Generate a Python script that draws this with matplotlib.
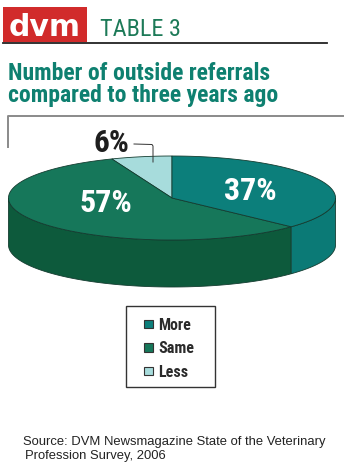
import numpy as np
import matplotlib
matplotlib.use("Agg")
import matplotlib.pyplot as plt
from matplotlib import font_manager
from matplotlib.patches import Rectangle

# survey shares, percent
categories = ["More", "Same", "Less"]
values = [37, 57, 6]

top_colors = {"More": "#0c7f7b", "Same": "#16775a", "Less": "#a7dcdc"}
side_colors = {"More": "#0b7a76", "Same": "#0d5a3c", "Less": "#8fcaca"}

names = {f.name for f in font_manager.fontManager.ttflist}
narrow = "Roboto Condensed" if "Roboto Condensed" in names else "Roboto"
NARROW = dict(family=[narrow, "DejaVu Sans"])
ARIAL = ["Liberation Sans", "DejaVu Sans"]

fig = plt.figure(figsize=(3.5, 4.64), dpi=100)
ax = fig.add_axes([0, 0, 1, 1])
ax.set_xlim(0, 350)
ax.set_ylim(464, 0)
ax.axis("off")

# header
ax.add_patch(Rectangle((3, 8), 84, 35, color="#d12b2b", lw=0))
ax.text(45, 36, "dvm", color="white", fontsize=21.5, fontweight="heavy",
        family=["DejaVu Sans"], ha="center", va="baseline")
ax.text(100, 36, "TABLE 3", color="#1d7a58", fontsize=17.5, ha="left",
        va="baseline", **NARROW)
ax.plot([3, 327], [43.5, 43.5], color="#222222", lw=1.3)

ax.text(8, 80, "Number of outside referrals", color="#0e8070", fontsize=17,
        fontweight="bold", va="baseline", **NARROW)
ax.text(8, 102, "compared to three years ago", color="#0e8070", fontsize=17,
        fontweight="bold", va="baseline", **NARROW)

# frame around the chart
ax.plot([8, 8, 343], [148, 117, 117], color="#8a8a8a", lw=1.4)

# 3D pie: counterclockwise from 12 o'clock -> Less, Same, More
cx, cy, a, b, depth = 172, 199, 163.5, 42, 47
order = ["Less", "Same", "More"]
vals = dict(zip(categories, values))
start = 90.0
spans = {}
for name in order:
    sweep = 360.0 * vals[name] / sum(values)
    spans[name] = (start, start + sweep)
    start += sweep


def ell(t, dy=0.0):
    r = np.radians(t)
    return cx + a * np.cos(r), cy - b * np.sin(r) + dy


edge = "#143c30"
# visible side walls (lower half of the ellipse)
for name in order:
    t0, t1 = spans[name]
    for off in (0, 360):
        lo, hi = max(t0, 180 + off), min(t1, 360 + off)
        if hi > lo:
            t = np.linspace(lo, hi, 120)
            x1, y1 = ell(t)
            x2, y2 = ell(t[::-1], depth)
            ax.fill(np.r_[x1, x2], np.r_[y1, y2], color=side_colors[name],
                    ec=edge, lw=0.6)

# top faces
for name in order:
    t0, t1 = spans[name]
    t = np.linspace(t0, t1, 200)
    x, y = ell(t)
    ax.fill(np.r_[cx, x], np.r_[cy, y], color=top_colors[name], ec=edge, lw=0.6)

# value labels
labels = dict(zip(categories, [f"{v}%" for v in values]))
ax.text(250, 200, labels["More"], color="white", fontsize=23, fontweight="bold",
        ha="center", va="baseline", **NARROW)
ax.text(106, 212, labels["Same"], color="white", fontsize=23, fontweight="bold",
        ha="center", va="baseline", **NARROW)
ax.text(111, 152, labels["Less"], color="#1e1e1e", fontsize=22.5, fontweight="bold",
        ha="center", va="baseline", **NARROW)
ax.plot([134, 152, 153, 153], [145, 145.5, 147, 163], color="#333333", lw=0.7)

# legend
ax.add_patch(Rectangle((126, 307), 89, 81, fill=False, ec="#333333", lw=1.0))
for i, name in enumerate(categories):
    y = 325 + 23.5 * i
    ax.add_patch(Rectangle((144, y - 4.5), 8.5, 8.5, fc=top_colors[name],
                           ec="#333333", lw=0.8))
    ax.text(158, y + 5, name, color="#2a2a2a", fontsize=11.5, fontweight="bold",
            va="baseline", **NARROW)

# source note
ax.text(23, 445, "Source: DVM Newsmagazine State of the Veterinary", fontsize=9.4,
        family=ARIAL, color="#222222", va="baseline")
ax.text(25, 459, "Profession Survey, 2006", fontsize=9.4, family=ARIAL,
        color="#222222", va="baseline")

fig.savefig("out.png", dpi=100)
